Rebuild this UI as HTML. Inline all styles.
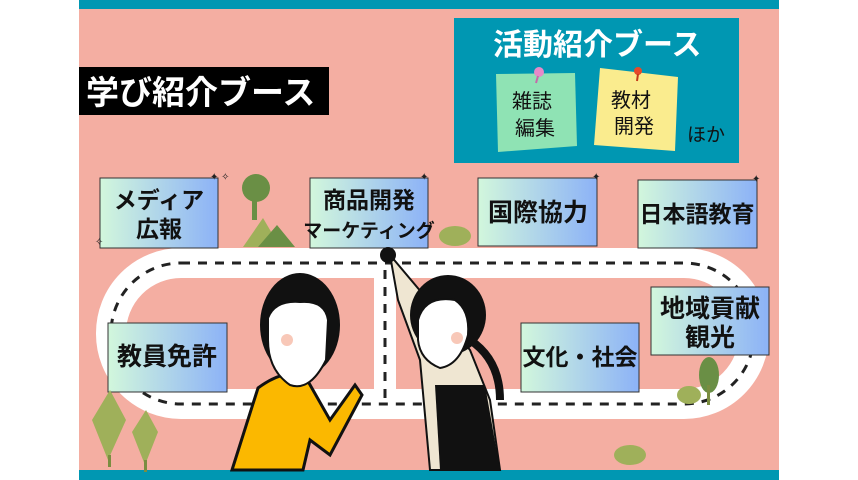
<!DOCTYPE html>
<html><head><meta charset="utf-8"><style>
html,body{margin:0;padding:0;background:#fff}
svg{display:block}
text{font-family:"Liberation Sans","Noto Sans CJK JP",sans-serif}
</style></head><body>
<svg width="858" height="480" viewBox="0 0 858 480" xmlns="http://www.w3.org/2000/svg">
<defs>
<linearGradient id="g" x1="0" x2="1" y1="0" y2="0"><stop offset="0" stop-color="#d2f7dc"/><stop offset="1" stop-color="#8cb2f7"/></linearGradient>
</defs>
<rect x="0" y="0" width="858" height="480" fill="#fff"/>
<rect x="79" y="0" width="700" height="480" fill="#f4aea2"/>
<rect x="79" y="0" width="700" height="9" fill="#0097b2"/>
<rect x="79" y="470" width="700" height="10" fill="#0097b2"/>

<!-- road -->
<rect x="111" y="263" width="643" height="141" rx="70" fill="none" stroke="#fff" stroke-width="30"/>
<line x1="385" y1="263" x2="385" y2="404" stroke="#fff" stroke-width="22"/>
<rect x="111" y="263" width="643" height="141" rx="70" fill="none" stroke="#222" stroke-width="3" stroke-dasharray="9 8"/>
<line x1="385" y1="270" x2="385" y2="400" stroke="#222" stroke-width="3" stroke-dasharray="9 8"/>

<!-- black label -->
<rect x="79" y="67" width="250" height="48" fill="#000"/>
<text x="86" y="104" font-size="33" font-weight="bold" fill="#fff">学び紹介ブース</text>

<!-- teal box -->
<rect x="454" y="18" width="285" height="145" fill="#0097b2"/>
<text x="493" y="55" font-size="30" font-weight="bold" fill="#fff">活動紹介ブース</text>
<polygon points="496,74 575,73 577,146 498,152" fill="#8fe3b4"/>
<circle cx="539" cy="72" r="5" fill="#e68ac8"/><line x1="538" y1="76" x2="536" y2="83" stroke="#c56aaa" stroke-width="2"/>
<text x="512" y="108" font-size="20" fill="#111">雑誌</text>
<text x="515" y="135" font-size="20" fill="#111">編集</text>
<polygon points="600,68 678,77 675,151 594,145" fill="#faec8e"/>
<circle cx="638" cy="71" r="4" fill="#e64a2a"/><line x1="638" y1="74" x2="637" y2="81" stroke="#c43a1a" stroke-width="2"/>
<text x="611" y="107" font-size="20" fill="#111">教材</text>
<text x="614" y="133" font-size="20" fill="#111">開発</text>
<text x="687" y="141" font-size="19" fill="#111">ほか</text>

<!-- boxes -->
<g font-size="23" font-weight="bold" fill="#111" text-anchor="middle">
<rect x="100" y="178" width="118" height="70" fill="url(#g)" stroke="#333" stroke-width="1"/>
<text x="159" y="208">メディア</text><text x="159" y="237">広報</text>
<rect x="310" y="178" width="118" height="70" fill="url(#g)" stroke="#333" stroke-width="1"/>
<text x="369" y="208">商品開発</text><text x="369" y="237" font-size="19">マーケティング</text>
<rect x="478" y="178" width="119" height="68" fill="url(#g)" stroke="#333" stroke-width="1"/>
<text x="538" y="221" font-size="25">国際協力</text>
<rect x="638" y="180" width="119" height="68" fill="url(#g)" stroke="#333" stroke-width="1"/>
<text x="697" y="222" font-size="23">日本語教育</text>
<rect x="108" y="323" width="119" height="69" fill="url(#g)" stroke="#333" stroke-width="1"/>
<text x="167" y="365" font-size="25">教員免許</text>
<rect x="521" y="323" width="118" height="69" fill="url(#g)" stroke="#333" stroke-width="1"/>
<text x="580" y="365" font-size="23">文化・社会</text>
<rect x="651" y="287" width="118" height="68" fill="url(#g)" stroke="#333" stroke-width="1"/>
<text x="710" y="317" font-size="25">地域貢献</text><text x="710" y="346" font-size="25">観光</text>
</g>
<g fill="#222" font-size="10">
<text x="210" y="180">✦ ✧</text><text x="95" y="245">✧</text><text x="420" y="180">✦</text><text x="592" y="180">✦</text><text x="752" y="182">✦</text>
</g>

<!-- trees/mountains -->
<circle cx="256" cy="188" r="14" fill="#6a8f45"/>
<rect x="252" y="198" width="5" height="22" fill="#6a8f45"/>
<polygon points="243,247 263,218 280,247" fill="#9fb05a"/>
<polygon points="258,247 277,225 295,247" fill="#6a8f45"/>
<ellipse cx="455" cy="236" rx="16" ry="10" fill="#9fb05a"/>
<polygon points="108,460 92,420 110,390 126,420" fill="#9fb05a"/><rect x="108" y="455" width="3" height="12" fill="#7a8d40"/>
<polygon points="145,465 132,432 146,410 158,432" fill="#9fb05a"/><rect x="144" y="460" width="3" height="12" fill="#7a8d40"/>
<ellipse cx="709" cy="375" rx="10" ry="18" fill="#6a8f45"/><rect x="707" y="385" width="3" height="20" fill="#7a8d40"/>
<ellipse cx="689" cy="395" rx="12" ry="9" fill="#9fb05a"/>
<ellipse cx="630" cy="455" rx="16" ry="10" fill="#9fb05a"/>

<!-- left woman -->
<path d="M232,470 L258,388 Q285,368 305,376 L330,420 L355,385 L362,395 L330,455 L310,440 L303,470 Z" fill="#fbb800" stroke="#111" stroke-width="3"/>
<ellipse cx="300" cy="325" rx="40" ry="52" fill="#111"/>
<path d="M268,318 Q275,300 300,302 Q325,300 328,320 L326,360 Q310,392 290,385 Q268,370 268,340 Z" fill="#fff" stroke="#111" stroke-width="2"/>
<circle cx="287" cy="340" r="6" fill="#f8c8b8"/>
<!-- right woman -->
<path d="M390,255 L398,300 L420,360 L430,470 L500,470 L490,400 L470,350 Z" fill="#efe6d2" stroke="#111" stroke-width="2"/>
<path d="M435,385 L485,385 L500,470 L440,470 Z" fill="#111"/>
<circle cx="388" cy="255" r="8" fill="#111"/>
<ellipse cx="448" cy="315" rx="38" ry="40" fill="#111"/>
<path d="M418,320 Q425,295 455,300 Q470,310 468,335 Q460,365 440,368 Q420,360 418,340 Z" fill="#fff" stroke="#111" stroke-width="2"/>
<circle cx="457" cy="338" r="6" fill="#f8c8b8"/>
<path d="M470,340 Q500,360 500,400" fill="none" stroke="#111" stroke-width="8"/>
</svg>
</body></html>
